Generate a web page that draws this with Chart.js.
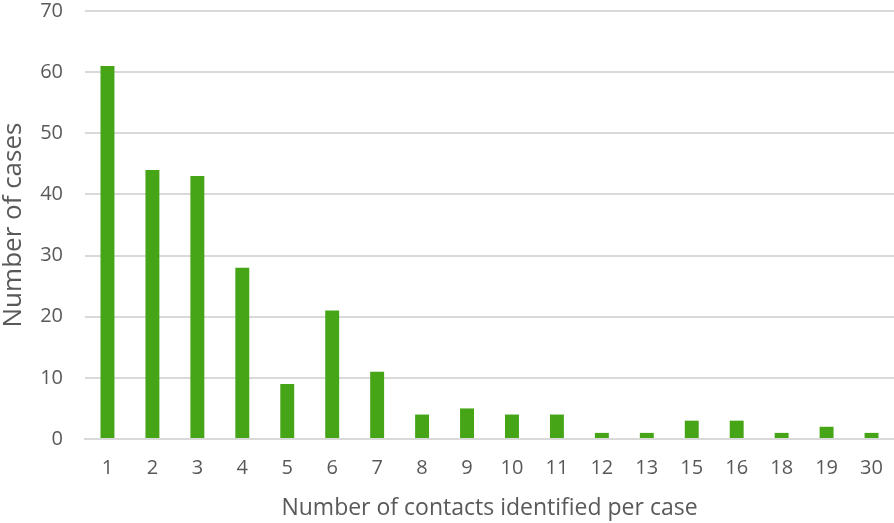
<!DOCTYPE html>
<html>
<head>
<meta charset="utf-8">
<script src="https://cdn.jsdelivr.net/npm/chart.js@4"></script>
<style>
  html, body { margin: 0; padding: 0; background: #fff; }
  #wrap { width: 894px; height: 523px; }
</style>
</head>
<body>
<div id="wrap"><canvas id="chart" width="894" height="523"></canvas></div>
<script>
const contacts = ["1", "2", "3", "4", "5", "6", "7", "8", "9", "10", "11", "12", "13", "15", "16", "18", "19", "30"];
const cases = [61, 44, 43, 28, 9, 21, 11, 4, 5, 4, 4, 1, 1, 3, 3, 1, 2, 1];

const textColor = "#595959";
const gridColor = "#d9d9d9";
const font = "'Open Sans', 'Liberation Sans', sans-serif";

new Chart(document.getElementById("chart"), {
  type: "bar",
  data: {
    labels: contacts,
    datasets: [{
      data: cases,
      backgroundColor: "#46a517",
      categoryPercentage: 1,
      barPercentage: 0.31
    }]
  },
  options: {
    responsive: false,
    animation: false,
    layout: { padding: 0 },
    plugins: { legend: { display: false }, tooltip: { enabled: false } },
    scales: {
      x: {
        grid: { display: false, drawTicks: false },
        border: { color: gridColor, width: 2 },
        ticks: { color: textColor, font: { family: font, size: 20 }, padding: 17 },
        title: { display: true, text: "Number of contacts identified per case", color: textColor, font: { family: font, size: 23 }, padding: { top: 0, bottom: 1 } },
        afterFit: (scale) => { scale.height = 84; scale.paddingLeft = 0; scale.paddingRight = 0; }
      },
      y: {
        min: 0,
        max: 70,
        ticks: { stepSize: 10, color: textColor, font: { family: font, size: 20 }, padding: 22 },
        grid: { color: gridColor, lineWidth: 2, drawTicks: false },
        border: { display: false },
        title: { display: true, text: "Number of cases", color: textColor, font: { family: font, size: 26, lineHeight: 1 }, padding: { top: 1, bottom: 0 } },
        afterFit: (scale) => { scale.width = 85; scale.paddingTop = 11; scale.paddingBottom = 0; }
      }
    }
  }
});
</script>
</body>
</html>
